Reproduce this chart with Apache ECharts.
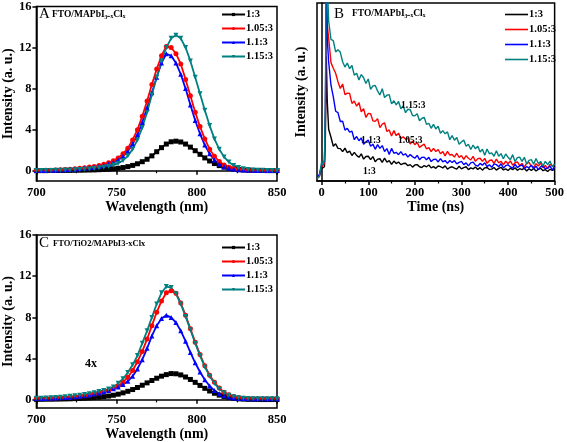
<!DOCTYPE html>
<html><head><meta charset="utf-8">
<script src="https://cdn.jsdelivr.net/npm/echarts@6/dist/echarts.min.js"></script>
<style>html,body{margin:0;padding:0;background:#fff}#c{width:567px;height:442px}</style>
</head><body><div id="c"></div>
<script>
// ---------- DATA ----------
const seriesNames = ['1:3', '1.05:3', '1.1:3', '1.15:3'];
const wavelength = [700,703,706,709,712,715,718,721,724,727,730,733,736,739,742,745,748,751,754,757,760,763,766,769,772,775,778,781,784,787,790,793,796,799,802,805,808,811,814,817,820,823,826,829,832,835,838,841,844,847,850];

// Panel A: FTO/MAPbI3-xClx PL spectra
const aBlack = [0.01,0.01,0.01,0.02,0.02,0.02,0.03,0.03,0.04,0.05,0.06,0.07,0.08,0.10,0.12,0.15,0.19,0.24,0.31,0.40,0.52,0.68,0.88,1.12,1.45,1.85,2.25,2.6,2.82,2.88,2.8,2.6,2.3,1.95,1.6,1.25,0.95,0.7,0.5,0.35,0.24,0.16,0.11,0.07,0.05,0.03,0.02,0.02,0.01,0.01,0.01];
const aRed = [0.02,0.03,0.04,0.05,0.07,0.09,0.12,0.15,0.19,0.24,0.30,0.36,0.42,0.50,0.62,0.78,0.98,1.25,1.65,2.2,3.0,4.0,5.3,6.8,8.4,9.9,11.2,12.1,12.0,11.4,10.4,8.9,7.3,5.7,4.3,3.1,2.1,1.4,0.9,0.56,0.35,0.22,0.15,0.1,0.07,0.05,0.04,0.03,0.03,0.02,0.02];
const aBlue = [0.02,0.02,0.03,0.04,0.05,0.07,0.09,0.12,0.15,0.19,0.24,0.29,0.35,0.42,0.52,0.65,0.82,1.05,1.4,1.9,2.6,3.5,4.7,6.1,7.6,9.1,10.5,11.4,11.2,10.5,9.4,8.0,6.4,4.9,3.6,2.5,1.65,1.05,0.65,0.40,0.25,0.16,0.10,0.07,0.05,0.04,0.03,0.03,0.02,0.02,0.02];
const aTeal = [0.02,0.02,0.03,0.03,0.04,0.05,0.06,0.08,0.10,0.12,0.15,0.18,0.22,0.27,0.34,0.42,0.55,0.72,1.0,1.45,2.1,3.0,4.2,5.7,7.4,9.1,10.7,12.0,12.9,13.2,12.9,12.0,10.7,9.1,7.5,5.9,4.4,3.1,2.1,1.35,0.85,0.52,0.32,0.2,0.13,0.08,0.05,0.04,0.03,0.02,0.02];

// Panel C: FTO/TiO2/MAPbI3-xClx PL spectra
const cBlack = [0.05,0.05,0.06,0.06,0.07,0.08,0.09,0.1,0.12,0.14,0.16,0.19,0.22,0.26,0.31,0.37,0.45,0.55,0.68,0.83,1.0,1.2,1.42,1.65,1.88,2.1,2.3,2.45,2.55,2.53,2.42,2.22,1.98,1.7,1.4,1.12,0.86,0.64,0.46,0.32,0.22,0.15,0.1,0.07,0.05,0.04,0.04,0.03,0.03,0.03,0.03];
const cRed = [0.12,0.13,0.14,0.16,0.18,0.2,0.23,0.26,0.3,0.35,0.41,0.48,0.56,0.66,0.78,0.92,1.1,1.35,1.7,2.2,2.85,3.7,4.7,5.9,7.2,8.5,9.6,10.4,10.6,10.35,9.4,8.2,6.9,5.6,4.4,3.3,2.4,1.7,1.15,0.75,0.5,0.32,0.22,0.16,0.13,0.11,0.1,0.1,0.1,0.1,0.1];
const cBlue = [0.12,0.13,0.14,0.16,0.18,0.2,0.23,0.26,0.3,0.35,0.41,0.48,0.56,0.66,0.78,0.92,1.08,1.25,1.5,1.8,2.3,3.0,3.9,5.0,6.2,7.2,7.9,8.2,8.0,7.5,6.7,5.7,4.6,3.6,2.7,1.95,1.35,0.9,0.6,0.4,0.27,0.19,0.14,0.12,0.1,0.1,0.1,0.1,0.1,0.1,0.1];
const cTeal = [0.15,0.16,0.18,0.2,0.23,0.26,0.3,0.34,0.39,0.45,0.52,0.6,0.7,0.8,0.92,1.05,1.25,1.6,2.05,2.65,3.4,4.3,5.5,6.7,8.0,9.3,10.4,11.0,10.9,10.3,9.3,8.1,6.8,5.5,4.3,3.2,2.3,1.6,1.05,0.7,0.45,0.3,0.2,0.15,0.12,0.1,0.1,0.1,0.1,0.1,0.1];

// Panel B: time-resolved PL (arbitrary units, 0..100 = frame height)
const timeNs = [-10,-5,0,3,6,8,10,12,15,20,25,30,35,40,45,50,55,60,65,70,75,80,85,90,95,100,105,110,115,120,125,130,135,140,145,150,155,160,165,170,175,180,185,190,195,200,205,210,215,220,225,230,235,240,245,250,255,260,265,270,275,280,285,290,295,300,305,310,315,320,325,330,335,340,345,350,355,360,365,370,375,380,385,390,395,400,405,410,415,420,425,430,435,440,445,450,455,460,465,470,475,480,485,490,495,500];
const bBlack = [1.5,2.5,7,6,8,25,70,45,29.1,24.6,19.5,20.9,18.3,18.2,16.5,18.5,15.9,16.8,14.3,16.1,14.4,13.3,15.3,12.3,13.8,13.9,12,13.7,10.8,12.3,12.5,10.5,12.8,10.6,11.4,9.3,11.2,9.8,10.7,9.2,9.8,10,8.6,9.2,7.8,9,9.2,8,7.6,8.7,8,9,7.4,8.1,7.1,8.4,8.1,7.3,8.5,6.7,7.6,8,7.2,6.7,8.3,6.8,7.5,8,6.4,7.4,6.8,7.9,6.5,7.5,6.1,7.4,7.6,6.5,6.7,7.6,6.1,7.1,7.7,6.2,6.8,5.9,7.2,6.4,7.4,6,6.9,6.4,7.2,5.6,6.9,6,7,5.6,6.5,7.1,5.8,6.4,5.3,6.6,5.9,6.7];
const bRed = [2,3,8,7,10,35,105,88,80.3,66.5,63.3,60.5,55.8,52,54.5,48.5,49.4,49.2,43.6,44.9,42,44.1,38.9,40.7,35.7,38,37.8,33.8,33.5,35,30,31.9,32.7,27.8,28.7,25.3,28.3,25.5,26.9,23.9,24.8,23.5,24.1,20.8,22.4,20.4,21.6,18.9,19.9,20.7,18,18.8,16.5,18.3,16.6,17.7,15.3,16.5,14.1,16.7,14.6,14.9,13.4,15.6,13.2,14.3,12.1,14.2,12.8,11.8,13.9,11,12.6,12.8,11,12.7,9.9,11.5,11.8,9.9,12.3,10.2,11.1,9.1,11.1,9.7,11.3,8.9,10.2,10.8,8.6,9.9,7.8,9.9,10.5,8.4,7.7,9.7,8.4,10.1,7.5,8.7,7,9.3,8.7,7.3];
const bBlue = [2.5,3.5,9,8,11,38,110,80,67,53.8,47.2,39.2,38.4,33.4,33.6,28.6,29.6,27.4,28,23.2,25,22.6,24.2,20.6,22,23,19.5,20.7,17.8,20.4,18.3,19.9,16.6,18.2,14.9,18.3,15.6,16.1,14.8,16.5,14.5,15.3,13.4,14.9,13.7,12.8,14.4,12,13.3,13.4,11.9,13.3,10.9,12.1,12.3,10.7,12.6,10.8,11.5,9.9,11.5,10.4,11.5,9.6,10.5,11,9.2,10.2,8.5,10.2,10.6,8.9,8.3,9.9,8.9,10.2,8.1,9.1,7.7,9.6,9.2,8,9.7,7.3,8.6,9.1,7.9,7.3,9.4,7.5,8.5,9,6.9,8.1,7.4,8.9,6.9,8.3,6.4,8.1,8.3,6.9,7.2,8.4,6.3,7.7];
const bTeal = [1.5,2.5,11,9,12,45,125,112,90,79.5,78.8,72.5,73.8,72.3,67,64,66.3,63.1,64.9,59.5,60.5,56.8,59.8,58,54.8,57.3,51.5,53.4,53.7,50.6,48.3,51.8,46.9,48.2,48.5,43.3,45.1,42.8,44.7,40.6,42.2,38.4,40.3,40.1,36.8,36.6,37.8,33.8,35.2,35.8,31.8,32.4,29.6,31.8,29.2,30.8,26.8,28.3,26.5,27.6,23.2,25.5,22.9,24.4,20.6,21.9,23,19.5,20.6,17.7,20.2,18.1,19.6,16.3,17.8,14.5,18,15.3,15.8,13.9,17,13.9,15.4,12.5,15.2,13.3,12,14.8,10.9,13.1,13.4,11,13.3,9.5,11.6,12,9.4,12.6,9.8,11,8.4,11,9.2,11.2,8,9.6];

// Axis tick values
const intensityTicks = [0, 4, 8, 12, 16];
const timeTicks = [0, 100, 200, 300, 400, 500];
const timeMinorTicks = [50, 150, 250, 350, 450];

// ---------- STYLE ----------
const SERIF = '"Liberation Serif","Times New Roman",serif';
const colors = ['#000000', '#ff0000', '#0000ff', '#008080'];
const symbols = ['rect', 'circle', 'triangle', 'triangle'];
const rotations = [0, 0, 0, 180];

const zip = (xs, ys) => xs.map((x, i) => [x, ys[i]]);
const lineStyleAxis = { color: '#000', width: 1.5 };
const labelStyle = { fontFamily: SERIF, fontWeight: 'bold', fontSize: 12.5, color: '#000' };
const nameStyle = { fontFamily: SERIF, fontWeight: 'bold', fontSize: 14, color: '#000' };

function wlAxis(grid) {
  return {
    type: 'value', gridIndex: grid, min: 700, max: 850, interval: 50,
    name: 'Wavelength (nm)', nameLocation: 'middle', nameGap: 17, nameTextStyle: nameStyle,
    axisLine: { show: true, lineStyle: lineStyleAxis },
    axisTick: { show: true, length: 4, lineStyle: lineStyleAxis },
    minorTick: { show: true, splitNumber: 2, length: 2.5, lineStyle: { color: '#000', width: 1.2 } },
    axisLabel: { margin: 5, ...labelStyle },
    splitLine: { show: false }, minorSplitLine: { show: false }
  };
}
function intAxis(grid, min) {
  return {
    type: 'value', gridIndex: grid, min: min, max: 16,
    name: 'Intensity (a. u.)', nameLocation: 'middle', nameGap: 19, nameTextStyle: nameStyle,
    axisLine: { show: true, lineStyle: lineStyleAxis },
    axisTick: { show: true, length: 4, lineStyle: lineStyleAxis, customValues: intensityTicks },
    axisLabel: { margin: 5, ...labelStyle, customValues: intensityTicks },
    splitLine: { show: false }
  };
}

const series = [];
const spectra = [
  { key: 'A', x: 0, y: 0, data: [aBlack, aRed, aBlue, aTeal] },
  { key: 'C', x: 3, y: 2, data: [cBlack, cRed, cBlue, cTeal] }
];
spectra.forEach(p => {
  p.data.forEach((vals, k) => {
    series.push({
      name: p.key + ' ' + seriesNames[k], type: 'line', xAxisIndex: p.x, yAxisIndex: p.y,
      data: zip(wavelength, vals), symbol: symbols[k], symbolRotate: rotations[k], symbolSize: 5,
      showAllSymbol: true, color: colors[k],
      lineStyle: { width: 1.8, color: colors[k] }, itemStyle: { color: colors[k] }
    });
  });
});
[bBlack, bRed, bBlue, bTeal].forEach((vals, k) => {
  series.push({
    name: 'B ' + seriesNames[k], type: 'line', xAxisIndex: 1, yAxisIndex: 1,
    data: zip(timeNs, vals), symbol: 'none', color: colors[k],
    lineStyle: { width: 1.4, color: colors[k] }, itemStyle: { color: colors[k] }
  });
});

function legend(key, left, top, lineOnly) {
  const base = {
    left: left, top: top, orient: 'vertical', selectedMode: false,
    data: seriesNames.map(n => key + ' ' + n),
    formatter: n => n.slice(2),
    itemWidth: 23, itemGap: 3,
    textStyle: { fontFamily: SERIF, fontWeight: 'bold', fontSize: 10.5, color: '#000', padding: [0, 0, 0, -4] }
  };
  if (lineOnly) {
    base.icon = 'rect';
    base.itemHeight = 1.6;
    base.itemGap = 4;
  } else {
    base.itemHeight = 4;
  }
  return base;
}

const txt = (left, top, text, size, bold) => ({
  type: 'text', left: left, top: top, z: 100,
  style: { text: text, fill: '#000', font: (bold ? 'bold ' : '') + size + 'px ' + SERIF }
});

const option = {
  animation: false,
  backgroundColor: '#fff',
  grid: [
    { left: 35, top: 4, width: 242, height: 177, show: true, borderColor: '#000', borderWidth: 1.5 },
    { left: 317, top: 3, width: 242, height: 178, show: true, borderColor: '#000', borderWidth: 1.5 },
    { left: 35, top: 235, width: 242, height: 175, show: true, borderColor: '#000', borderWidth: 1.5 }
  ],
  xAxis: [
    wlAxis(0),
    {
      type: 'value', gridIndex: 1, min: -10, max: 500,
      name: 'Time (ns)', nameLocation: 'middle', nameGap: 17, nameTextStyle: nameStyle,
      axisLine: { show: true, lineStyle: lineStyleAxis },
      axisTick: { show: true, length: 4, lineStyle: lineStyleAxis, customValues: timeTicks },
      axisLabel: { margin: 5, ...labelStyle, customValues: timeTicks },
      splitLine: { show: false }
    },
    {
      type: 'value', gridIndex: 1, min: -10, max: 500, position: 'bottom',
      axisLine: { show: false },
      axisTick: { show: true, length: 2.5, lineStyle: { color: '#000', width: 1.2 }, customValues: timeMinorTicks },
      axisLabel: { show: false }, splitLine: { show: false }
    },
    wlAxis(2)
  ],
  yAxis: [
    intAxis(0, -1),
    {
      type: 'value', gridIndex: 1, min: 0, max: 100,
      name: 'Intensity (a. u.)', nameLocation: 'middle', nameGap: 9, nameTextStyle: nameStyle,
      axisLine: { show: true, lineStyle: lineStyleAxis },
      axisTick: { show: false }, axisLabel: { show: false }, splitLine: { show: false }
    },
    intAxis(2, -0.8)
  ],
  legend: [
    legend('A', 216, 4, false),
    legend('B', 500, 4, true),
    legend('C', 216, 237, false)
  ],
  graphic: [
    txt(39, 7, 'A', 15, false),
    txt(52, 10, 'FTO/MAPbI₃₋ₓClₓ', 9.5, true),
    txt(334, 7, 'B', 15, false),
    txt(352, 9, 'FTO/MAPbI₃₋ₓClₓ', 9.5, true),
    txt(39, 236, 'C', 15, false),
    txt(53, 239, 'FTO/TiO2/MAPbI3-xClx', 8.5, true),
    txt(85, 358, '4x', 12, true),
    txt(401, 101, '1.15:3', 9.5, true),
    txt(361, 136, '1.1:3', 9.5, true),
    txt(398, 136, '1.05:3', 9.5, true),
    txt(363, 167, '1:3', 9.5, true)
  ],
  series: series
};

const chart = echarts.init(document.getElementById('c'), null, { renderer: 'canvas' });
chart.setOption(option);
</script>
</body></html>
